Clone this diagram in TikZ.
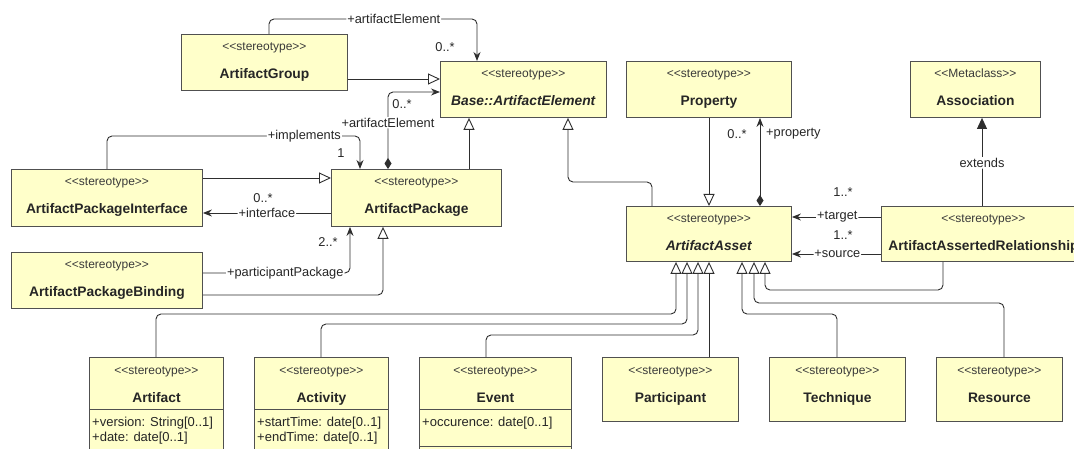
\documentclass[tikz,border=0pt]{standalone}
\usepackage{fontspec}
\setmainfont{Liberation Sans}[Ligatures=TeXOff]
\usetikzlibrary{arrows.meta,positioning}

\definecolor{boxfill}{HTML}{FFFFCA}
\definecolor{boxline}{HTML}{505050}
\definecolor{linecol}{HTML}{2E2E2E}
\definecolor{txtcol}{HTML}{262626}
\definecolor{stcol}{HTML}{3A3A3A}

\tikzset{
  umlbox/.style={draw=boxline, fill=boxfill, line width=0.9pt, anchor=north west, inner sep=0pt},
  sttext/.style={font=\fontsize{12}{14}\selectfont, text=stcol, inner sep=0pt, anchor=base},
  nmtext/.style={font=\fontsize{13.8}{16}\selectfont\bfseries, text=txtcol, inner sep=0pt, anchor=base},
  lbl/.style={font=\fontsize{12.8}{15}\selectfont, text=txtcol, fill=white, inner sep=1pt},
  mult/.style={font=\fontsize{12.8}{15}\selectfont, text=txtcol, inner sep=0pt},
  attr/.style={font=\fontsize{13}{15}\selectfont, text=txtcol, inner sep=0pt, anchor=west},
  conn/.style={draw=linecol, line width=0.9pt, rounded corners=5pt},
  gen/.style={conn, -{Triangle[open, length=12pt, width=11pt, fill=white]}},
  assoc/.style={conn, -{Stealth[length=9pt, width=7pt]}},
  comp/.style={conn, {Diamond[length=11pt, width=7pt]}-{Stealth[length=9pt, width=7pt]}},
  ext/.style={conn, -{Triangle[length=11pt, width=10pt]}},
}

\begin{document}
\begin{tikzpicture}[x=1pt, y=-1pt]
  \useasboundingbox (0,0) rectangle (1074,449);

  % attribute compartments
  \node[umlbox, minimum width=134pt, minimum height=60pt] (art-attr) at (89,409) {};
  \node[umlbox, minimum width=134pt, minimum height=60pt] (act-attr) at (254,409) {};
  \node[umlbox, minimum width=152pt, minimum height=37pt] (event-attr) at (419,409) {};
  \node[umlbox, minimum width=152pt, minimum height=30pt] (event-op) at (419,446) {};
  \node[attr] (art-a1) at (92,423) {+version: String[0..1]};
  \node[attr] (art-a2) at (92,438) {+date: date[0..1]};
  \node[attr] (act-a1) at (257,423) {+startTime: date[0..1]};
  \node[attr] (act-a2) at (257,438) {+endTime: date[0..1]};
  \node[attr] (event-a1) at (422,423) {+occurence: date[0..1]};

  % classes
  \foreach \id/\x/\y/\w/\h/\st/\nm in {
      ag/181/34/166/56/stereotype/ArtifactGroup,
      base/440/61/166/56/stereotype/{\textit{Base::ArtifactElement}},
      prop/626/61/165/56/stereotype/Property,
      assoc/910/61/130/56/Metaclass/Association,
      api/11/169/191/57/stereotype/ArtifactPackageInterface,
      apk/331/169/170/57/stereotype/ArtifactPackage,
      apb/11/252/191/56/stereotype/ArtifactPackageBinding,
      asset/626/206/165/55/stereotype/{\textit{ArtifactAsset}},
      aar/881/206/204/55/stereotype/ArtifactAssertedRelationship,
      art/89/357/134/52/stereotype/Artifact,
      act/254/357/134/52/stereotype/Activity,
      event/419/357/152/52/stereotype/Event,
      part/602/357/136/64/stereotype/Participant,
      tech/769/357/136/64/stereotype/Technique,
      res/936/357/126/64/stereotype/Resource}
  {
    \node[umlbox, minimum width=\w pt, minimum height=\h pt] (\id) at (\x,\y) {};
    \node[sttext] (\id-st) at ([yshift=-17pt]\id.north) {<<\st>>};
    \node[nmtext] (\id-nm) at ([yshift=-45pt]\id.north) {\nm};
  }

  % ArtifactGroup
  \draw[gen] (ag.east |- 0,79) -- (base.west |- 0,79);
  \draw[assoc] (ag.north -| 269,0) -- (269,19)
      -- node[lbl, pos=0.6] (ag-role) {+artifactElement} (477,19) -- (base.north -| 477,0);
  \node[mult] (ag-mult) at (445,47) {0..*};

  % ArtifactPackage
  \draw[gen] (apk.north -| 469,0) -- (base.south -| 469,0);
  \draw[comp] (apk.north -| 388,0) -- node[lbl, pos=0.6] (apk-role) {+artifactElement} (388,92) -- (base.west |- 0,92);
  \node[mult] (apk-mult) at (402,104) {0..*};

  % ArtifactPackageInterface
  \draw[assoc] (api.north -| 107,0) -- (107,136)
      -- node[lbl, pos=0.78] (api-role) {+implements} (360,136) -- (apk.north -| 360,0);
  \node[mult] (api-mult) at (341,153) {1};
  \draw[gen] (api.east |- 0,178) -- (apk.west |- 0,178);
  \draw[assoc] (apk.west |- 0,213) -- node[lbl, pos=0.5] (int-role) {+interface} (api.east |- 0,213);
  \node[mult] (int-mult) at (263,198) {0..*};

  % ArtifactPackageBinding
  \draw[assoc] (apb.east |- 0,273) -- node[lbl, pos=0.56] (apb-role) {+participantPackage} (350,273)
      -- (apk.south -| 350,0);
  \node[mult] (apb-mult) at (328,242) {2..*};
  \draw[gen] (apb.east |- 0,295) -- (383,295) -- (apk.south -| 383,0);

  % ArtifactAsset
  \draw[gen] (asset.north -| 652,0) -- (652,182) -- (568,182) -- (base.south -| 568,0);
  \draw[gen] (prop.south -| 709,0) -- (asset.north -| 709,0);
  \draw[comp] (asset.north -| 760,0) -- (prop.south -| 760,0);
  \node[mult] (prop-mult) at (737,134) {0..*};
  \node[mult, anchor=west] (prop-role) at (766,134) {+property};

  % ArtifactAssertedRelationship
  \draw[ext] (aar.north -| 982,0) -- node[lbl, pos=0.49] (aar-ext) {extends} (assoc.south -| 982,0);
  \draw[assoc] (aar.west |- 0,217) -- node[lbl, pos=0.49] (tgt-role) {+target} (asset.east |- 0,217);
  \node[mult] (tgt-mult) at (843,192) {1..*};
  \draw[assoc] (aar.west |- 0,254) -- node[lbl, pos=0.49] (src-role) {+source} (asset.east |- 0,254);
  \node[mult] (src-mult) at (843,235) {1..*};
  \draw[gen] (aar.south -| 943,0) -- (943,290) -- (765,290) -- (asset.south -| 765,0);

  % subtypes of ArtifactAsset
  \draw[gen] (res.north -| 1004,0) -- (1004,303) -- (754,303) -- (asset.south -| 754,0);
  \draw[gen] (tech.north -| 837,0) -- (837,314) -- (742,314) -- (asset.south -| 742,0);
  \draw[gen] (part.north -| 709,0) -- (asset.south -| 709,0);
  \draw[gen] (event.north -| 486,0) -- (486,335) -- (698,335) -- (asset.south -| 698,0);
  \draw[gen] (act.north -| 321,0) -- (321,324) -- (687,324) -- (asset.south -| 687,0);
  \draw[gen] (art.north -| 156,0) -- (156,314) -- (676,314) -- (asset.south -| 676,0);
\end{tikzpicture}
\end{document}
